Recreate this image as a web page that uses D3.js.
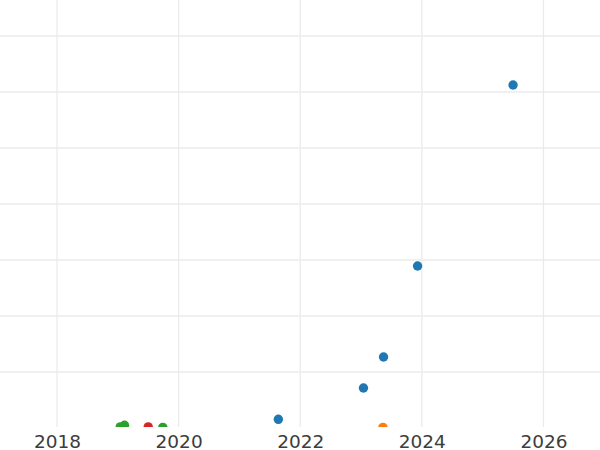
<!DOCTYPE html>
<html>
<head>
<meta charset="utf-8">
<script src="https://cdn.jsdelivr.net/npm/d3@7"></script>
<style>
    body { margin: 0; background: #fff; }
    .x-axis text { font-family: "DejaVu Sans", sans-serif; font-size: 18.5px; fill: #3d3d3d; }
</style>
</head>
<body>
<div id="chart"></div>
<script>
// series values (decimal year, value)
const seriesBlue = [
    [2021.64, 0.155], [2023.04, 0.714], [2023.37, 1.268], [2023.93, 2.893], [2025.50, 6.125]
];
const seriesGreen = [
    [2019.04, 0.02], [2019.11, 0.05], [2019.74, 0.01]
];
const seriesRed = [
    [2019.50, 0.02]
];
const seriesOrange = [
    [2023.36, 0.01]
];
const xTicks = [2018, 2020, 2022, 2024, 2026];
const yTicks = [0, 1, 2, 3, 4, 5, 6, 7];

const W = 600, H = 450;
const plotH = 427;

let svg = d3.select('#chart').append('svg')
    .attr('width', W)
    .attr('height', H);

let x = d3.scaleLinear().domain([2017.0625, 2026.93]).range([0, W]);
let y = d3.scaleLinear().domain([0, 7.643]).range([428, 0]);

svg.append('clipPath').attr('id', 'plot-clip')
    .append('rect').attr('x', 0).attr('y', 0).attr('width', W).attr('height', plotH);

// grid
let grid = svg.append('g').attr('clip-path', 'url(#plot-clip)');
grid.selectAll('.vgrid')
    .data(xTicks)
    .enter().append('line')
    .attr('x1', d => x(d)).attr('x2', d => x(d))
    .attr('y1', 0).attr('y2', plotH)
    .attr('stroke', '#ebebeb')
    .attr('stroke-width', 1.3);

grid.selectAll('.hgrid')
    .data(yTicks)
    .enter().append('line')
    .attr('x1', 0).attr('x2', W)
    .attr('y1', d => y(d)).attr('y2', d => y(d))
    .attr('stroke', '#ebebeb')
    .attr('stroke-width', 1.3);

// x axis labels
svg.append('g')
    .attr('class', 'x-axis')
    .attr('transform', 'translate(0,' + plotH + ')')
    .call(d3.axisBottom(x).tickValues(xTicks).tickFormat(d3.format('d')).tickSize(0).tickPadding(8))
    .call(g => g.select('.domain').remove());

// points
let pts = svg.append('g').attr('clip-path', 'url(#plot-clip)');
const groups = [
    { data: seriesGreen, color: '#2ca02c' },
    { data: seriesRed, color: '#d62728' },
    { data: seriesOrange, color: '#ff7f0e' },
    { data: seriesBlue, color: '#1f77b4' }
];
groups.forEach(function (s) {
    pts.selectAll(null)
        .data(s.data)
        .enter().append('circle')
        .attr('cx', d => x(d[0]))
        .attr('cy', d => y(d[1]))
        .attr('r', 4.7)
        .attr('fill', s.color);
});
</script>
</body>
</html>
